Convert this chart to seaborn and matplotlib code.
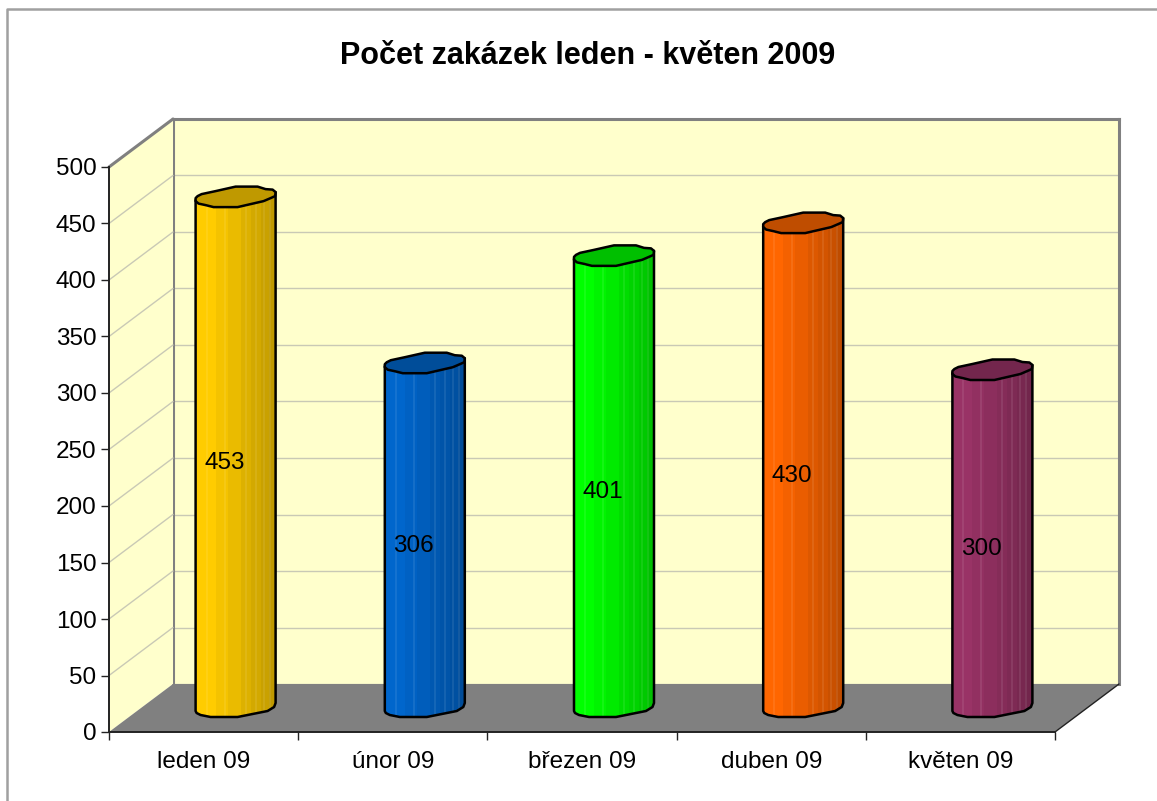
import numpy as np
import pandas as pd
import matplotlib
matplotlib.use('Agg')
import matplotlib.pyplot as plt
from matplotlib.colors import to_rgb
from matplotlib.lines import Line2D
from matplotlib.patches import PathPatch, Polygon
from matplotlib.path import Path
from matplotlib.transforms import IdentityTransform
import seaborn as sns

# data
months = ['leden 09', 'únor 09', 'březen 09', 'duben 09', 'květen 09']
orders = [453, 306, 401, 430, 300]
colors = ['#FFCC00', '#0066CC', '#00FF00', '#FF6600', '#993366']
y_ticks = [0, 50, 100, 150, 200, 250, 300, 350, 400, 450, 500]
title = 'Počet zakázek leden - květen 2009'

W, H = 1157, 801
DEPTH_X, DEPTH_Y = 64, 48

sns.set_theme(style='white')
plt.rcParams['font.family'] = ['Liberation Sans', 'DejaVu Sans']

fig = plt.figure(figsize=(W / 100, H / 100), dpi=100, facecolor='white')


def rect(dx, dy):
    # front plane of the plot, moved back by dx, dy pixels
    return [(109 + dx) / W, (H - 732 + dy) / H, 946 / W, 565 / H]


# back wall
ax_wall = fig.add_axes(rect(DEPTH_X, DEPTH_Y), zorder=0, facecolor='#FFFFCC')
ax_wall.set_ylim(0, 500)
ax_wall.set_xlim(-0.5, 4.5)
ax_wall.set_yticks(y_ticks)
ax_wall.set_xticks([])
ax_wall.tick_params(left=False, labelleft=False)
ax_wall.grid(axis='y', color='#C9C9B5', lw=1)
ax_wall.set_axisbelow(True)
for side in ['left', 'top', 'right']:
    ax_wall.spines[side].set_color('#808080')
    ax_wall.spines[side].set_linewidth(2.2)
ax_wall.spines['bottom'].set_visible(False)

# front axis, holds ticks and labels
ax = fig.add_axes(rect(0, 0), zorder=2)
ax.patch.set_alpha(0)
ax.set_ylim(0, 500)
ax.set_xlim(-0.5, 4.5)
ax.set_yticks(y_ticks)
ax.set_xticks(range(len(months)))
ax.set_xticklabels(months)
ax.set_xticks(np.arange(-0.5, 5), minor=True)
ax.tick_params(axis='x', which='major', length=0, pad=14, labelsize=17.5, colors='black')
ax.tick_params(axis='x', which='minor', length=6, width=1, color='#222222', bottom=True)
ax.tick_params(axis='y', length=6, width=1, color='#222222', left=True, pad=3, labelsize=17.5, labelcolor='black')
for side in ['top', 'right']:
    ax.spines[side].set_visible(False)
for side in ['left', 'bottom']:
    ax.spines[side].set_color('#222222')
    ax.spines[side].set_linewidth(1.4)

fig.canvas.draw()

# side wall and floor, spanned between front axis and back wall
side_lines = []
for v in y_ticks:
    p0 = ax.transData.transform((-0.5, v))
    p1 = ax_wall.transData.transform((-0.5, v))
    side_lines.append((p0, p1))
low, high = side_lines[0], side_lines[-1]
side_wall = Polygon([low[0], low[1], high[1], high[0]], closed=True, transform=IdentityTransform(),
                    facecolor='#FFFFCC', edgecolor='none', zorder=1)
fig.add_artist(side_wall)
for p0, p1 in side_lines[1:-1]:
    fig.add_artist(Line2D([p0[0], p1[0]], [p0[1], p1[1]], transform=IdentityTransform(),
                          color='#C9C9B5', lw=1, zorder=1))
fig.add_artist(Line2D([high[0][0], high[1][0]], [high[0][1], high[1][1]], transform=IdentityTransform(),
                      color='#808080', lw=2.2, zorder=1))
fr = ax.transData.transform((4.5, 0))
bk = ax_wall.transData.transform((4.5, 0))
floor = Polygon([low[0], low[1], bk, fr], closed=True, transform=IdentityTransform(),
                facecolor='#808080', edgecolor='none', zorder=1)
fig.add_artist(floor)
fig.add_artist(Line2D([fr[0], bk[0]], [fr[1], bk[1]], transform=IdentityTransform(),
                      color='#222222', lw=1, zorder=1))

# bars, half way between front and back
df = pd.DataFrame({'month': months, 'orders': orders})
ax_bar = fig.add_axes(rect(DEPTH_X / 2, DEPTH_Y / 2), zorder=3)
ax_bar.patch.set_alpha(0)
sns.barplot(data=df, x='month', y='orders', hue='month', palette=colors, legend=False,
            width=0.423, ax=ax_bar)
ax_bar.set_xlim(-0.5, 4.5)
ax_bar.set_ylim(0, 500)
ax_bar.axis('off')
fig.canvas.draw()

# cylinder outline in pixels from the bar's top or bottom centre (x right, y down)
cap_pts = [(-40, 4), (-40, 2), (-38, 0), (-34, -2), (-20, -5), (0, -9.5), (22, -9.5), (30, -7), (37, -6.5),
           (40, -4), (39.5, 0), (35, 2), (28, 5), (2, 11), (-22, 11), (-30, 9), (-37, 7.5), (-40, 5)]
foot_pts = [(40, -5), (38.5, -1), (32, 3), (2, 9), (-25, 9), (-35, 7), (-39, 5), (-40, 3)]
# shade of each 2 px strip across the cylinder, left to right
strips = [1] * 10 + [0.96] * 6 + [0.92] * 6 + [0.87] * 5 + [0.83] * 5 + [0.79] * 4 + [0.75] * 4
glints = [5, 14, 24, 29, 33, 36]

for patch, col, v in zip(ax_bar.patches, colors, orders):
    patch.set_visible(False)
    x_mid = patch.get_x() + patch.get_width() / 2
    top = ax_bar.transData.transform((x_mid, patch.get_height()))
    base = ax_bar.transData.transform((x_mid, 0))
    cap = [(top[0] + a, top[1] - b) for a, b in cap_pts]
    foot = [(base[0] + a, base[1] - b) for a, b in foot_pts]
    body = [(top[0] - 40, top[1] - 4)] + [(top[0] + 40, top[1] + 4)] + foot
    body_path = Path(body + [body[0]], closed=True)

    rgb = np.array(to_rgb(col))
    shades = np.array([rgb * s for s in strips])
    shades[glints] = shades[glints] * 0.92 + 0.08
    im = ax_bar.imshow(shades[np.newaxis], extent=[patch.get_x(), patch.get_x() + patch.get_width(), -25, v + 15],
                       aspect='auto', interpolation='nearest', zorder=2)
    im.set_clip_box(fig.bbox)
    im.set_clip_path(body_path, IdentityTransform())
    ax_bar.add_patch(PathPatch(body_path, transform=IdentityTransform(), facecolor='none', edgecolor='black',
                               lw=1.8, joinstyle='round', zorder=3, clip_on=False))
    ax_bar.add_patch(Polygon(cap, closed=True, transform=IdentityTransform(), facecolor=rgb * 0.75,
                             edgecolor='black', lw=1.8, joinstyle='round', zorder=4, clip_on=False))
    ax_bar.annotate(str(v), xy=(x_mid, v / 2), xytext=(-8, -7.7), textcoords='offset points',
                    ha='center', va='center', fontsize=17.5, color='black', zorder=5)

ax_bar.set_xlim(-0.5, 4.5)
ax_bar.set_ylim(0, 500)

# chart area border and title
fig.add_artist(Line2D([7 / W, 7 / W, 1], [0, 1 - 9 / H, 1 - 9 / H], color='#A0A0A0', lw=1.8, zorder=5))
fig.text(587.5 / W, 1 - 56.5 / H, title, ha='center', va='center', fontsize=22, fontweight='bold', color='black')

fig.savefig('out.png', dpi=100)
